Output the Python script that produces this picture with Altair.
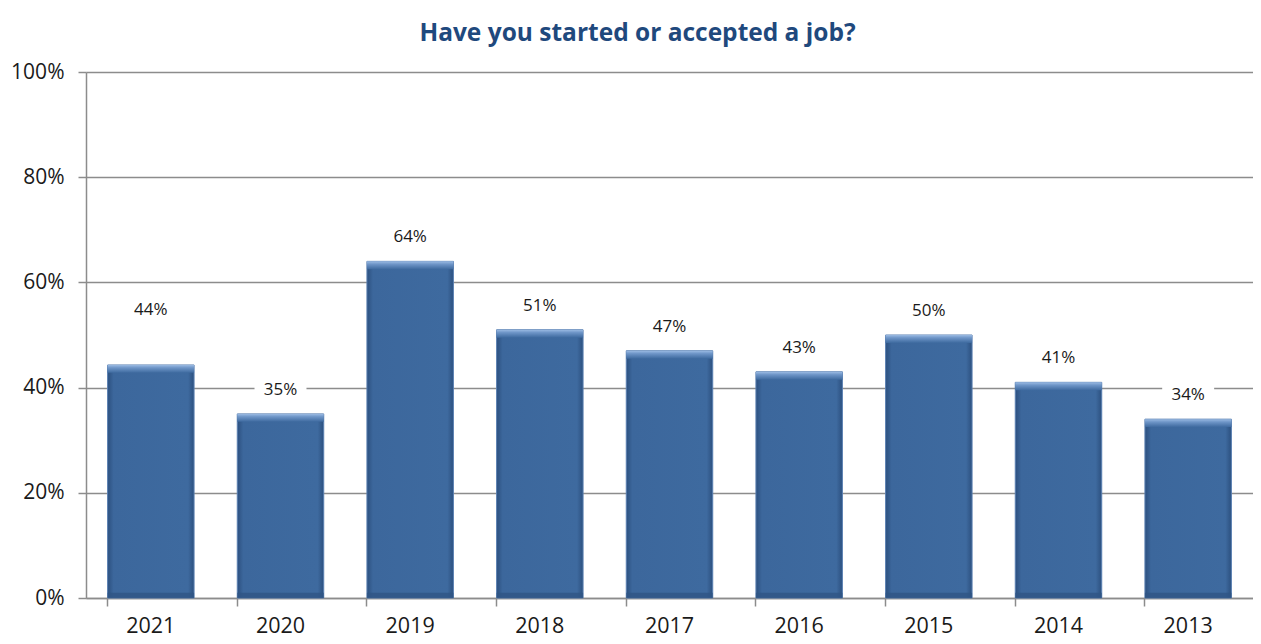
import altair as alt
import pandas as pd

years = ["2021", "2020", "2019", "2018", "2017", "2016", "2015", "2014", "2013"]
values = [44.3, 35, 64, 51, 47, 43, 50, 41, 34]
labels = ["44%", "35%", "64%", "51%", "47%", "43%", "50%", "41%", "34%"]

df = pd.DataFrame({"year": years, "value": values, "label": labels})

FONT = "Open Sans"
GRID = "#8c8c8c"
TEXT = "#1a1a1a"

x = alt.X("year:N", sort=years,
          scale=alt.Scale(paddingInner=0.333, paddingOuter=0.1665),
          axis=alt.Axis(title=None, labelAngle=0, labelFontSize=21.5, labelFont=FONT,
                        labelColor=TEXT, labelPadding=9, bandPosition=0,
                        ticks=True, tickSize=8, tickColor=GRID, tickWidth=1.5,
                        domainColor=GRID, domainWidth=1.5, grid=False))
y = alt.Y("value:Q", scale=alt.Scale(domain=[0, 100]),
          axis=alt.Axis(title=None, values=[0, 20, 40, 60, 80, 100],
                        labelExpr="datum.value + '%'", labelFontSize=21,
                        labelFont=FONT, labelColor=TEXT, labelPadding=14,
                        tickSize=8, tickColor=GRID, tickWidth=1.5,
                        domainColor=GRID, domainWidth=1.5,
                        grid=True, gridColor=GRID, gridWidth=1.5))

base = alt.Chart(df).transform_calculate(
    zero="0", cap="datum.value - 1.5", b="1.0")

body = base.mark_bar(
    stroke="#5b80b2", strokeWidth=1,
    color=alt.Gradient(
        gradient="linear", x1=0, x2=1, y1=0, y2=0,
        stops=[alt.GradientStop(color="#2c507f", offset=0),
               alt.GradientStop(color="#3c679c", offset=0.07),
               alt.GradientStop(color="#3e6a9f", offset=0.93),
               alt.GradientStop(color="#2c507f", offset=1)])
).encode(x=x, y=y, y2="zero:Q")

cap = base.mark_bar(
    color=alt.Gradient(
        gradient="linear", x1=0, x2=0, y1=0, y2=1,
        stops=[alt.GradientStop(color="#9bbbe3", offset=0),
               alt.GradientStop(color="#6f96c8", offset=0.35),
               alt.GradientStop(color="#3e6a9f", offset=1)])
).encode(x=x, y=y, y2="cap:Q")

bottom = base.mark_bar(color="#2f5585", opacity=0.8).encode(
    x=x, y=alt.Y("b:Q"), y2="zero:Q")

def label_layer(dy, flt):
    lb = base.transform_filter(flt)
    box = lb.mark_point(shape="M-1,-0.42H1V0.42H-1Z", filled=True, fill="white",
                        opacity=1, size=2700, yOffset=dy, strokeWidth=0).encode(
        x=x, y=y)
    txt = lb.mark_text(fontSize=17, font=FONT, color=TEXT, dy=dy, baseline="middle").encode(
        x=x, y=y, text="label:N")
    return [box, txt]

layers = [body, cap, bottom]
layers += label_layer(-55, "datum.year == '2021'")
layers += label_layer(-24, "datum.year != '2021'")

chart = alt.layer(*layers).properties(
    width=1167, height=526,
    autosize=alt.AutoSizeParams(type="none"),
    padding={"left": 78, "top": 64, "right": 0, "bottom": 46},
    title=alt.TitleParams("Have you started or accepted a job?", font=FONT, fontSize=24.5,
                          fontWeight="bold", color="#1f497d", anchor="middle",
                          dx=-32, offset=15),
).configure_view(stroke=None)

chart.save("out.html", embed_options={"renderer": "svg", "actions": False})
